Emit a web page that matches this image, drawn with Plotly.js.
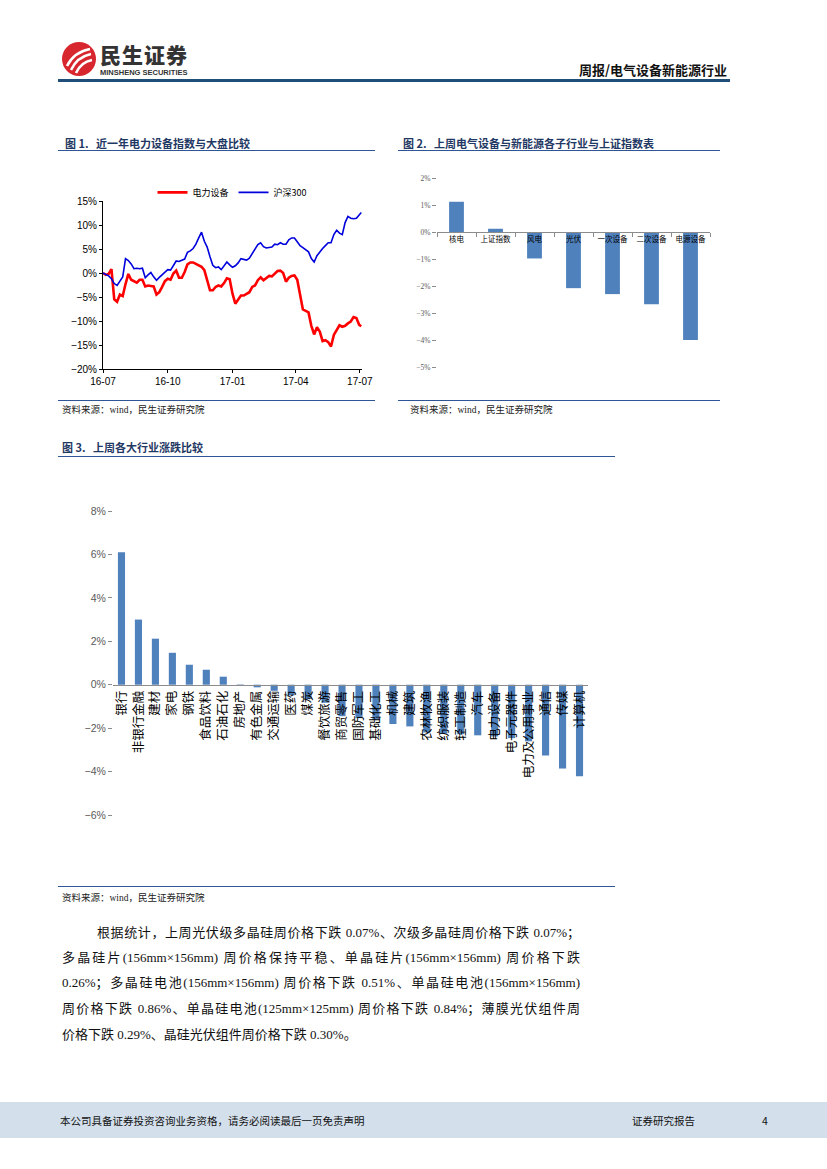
<!DOCTYPE html>
<html><head><meta charset="utf-8">
<script src="https://cdn.plot.ly/plotly-3.0.1.min.js"></script>
<style>
body{margin:0;background:#fff;}
#page{position:relative;width:827px;height:1169px;overflow:hidden;font-family:"Noto Sans CJK SC",sans-serif;}
.abs{position:absolute;}
.hline{position:absolute;background:#2f5597;height:1px;}
.ftitle{position:absolute;font-size:11px;font-weight:bold;color:#1f3864;white-space:nowrap;line-height:14px;}
.src{position:absolute;font-size:9.5px;color:#222;white-space:nowrap;line-height:12px;font-family:"Liberation Serif","Noto Sans CJK SC",serif;}
.para{position:absolute;left:62px;width:518px;font-size:13px;line-height:16px;color:#111;font-family:"Liberation Serif","Noto Sans CJK SC",serif;text-align:justify;text-align-last:justify;white-space:nowrap;}
</style></head>
<body><div id="page">
<svg class="abs" style="left:60px;top:40px" width="38" height="38" viewBox="0 0 38 38">
<circle cx="19" cy="19" r="17" fill="#d7262d"/>
<path d="M7 26 Q14 12 30 9" stroke="#fff" stroke-width="2.6" fill="none"/>
<path d="M11 30 Q17 17 31 14" stroke="#fff" stroke-width="2.6" fill="none"/>
<path d="M16 33 Q21 22 32 20" stroke="#fff" stroke-width="2.6" fill="none"/>
</svg>
<div class="abs" style="left:100px;top:43px;font-size:21px;font-weight:900;color:#333;line-height:22px;letter-spacing:1px;">民生证券</div>
<div class="abs" style="left:100px;top:68px;font-size:7.5px;font-weight:bold;color:#333;line-height:9px;font-family:'Liberation Sans',sans-serif;">MINSHENG SECURITIES</div>
<div class="abs" style="right:100px;top:61px;font-size:13px;font-weight:bold;color:#111;line-height:17px;">周报/电气设备新能源行业</div>
<div class="abs" style="left:58px;top:79px;width:672px;height:2.5px;background:#1f4e79;"></div>

<div class="ftitle" style="left:65px;top:136px;">图 1.&nbsp;&nbsp;&nbsp;近一年电力设备指数与大盘比较</div>
<div class="hline" style="left:58px;top:150px;width:317px;"></div>
<div class="ftitle" style="left:403px;top:136px;">图 2.&nbsp;&nbsp;&nbsp;上周电气设备与新能源各子行业与上证指数表</div>
<div class="hline" style="left:398px;top:150px;width:322px;"></div>

<div id="c1" class="abs" style="left:60px;top:180px;width:320px;height:210px;"></div>
<div id="c2" class="abs" style="left:400px;top:160px;width:320px;height:220px;"></div>

<div class="hline" style="left:58px;top:400px;width:317px;"></div>
<div class="hline" style="left:398px;top:400px;width:322px;"></div>
<div class="src" style="left:62px;top:404px;">资料来源：wind，民生证券研究院</div>
<div class="src" style="left:410px;top:404px;">资料来源：wind，民生证券研究院</div>

<div class="ftitle" style="left:62px;top:440px;">图 3.&nbsp;&nbsp;&nbsp;上周各大行业涨跌比较</div>
<div class="hline" style="left:58px;top:456px;width:557px;"></div>

<div id="c3" class="abs" style="left:60px;top:490px;width:560px;height:340px;"></div>

<div class="hline" style="left:58px;top:886px;width:557px;"></div>
<div class="src" style="left:62px;top:892px;">资料来源：wind，民生证券研究院</div>

<div class="para" style="top:925px;left:97px;width:483px;">根据统计，上周光伏级多晶硅周价格下跌 0.07%、次级多晶硅周价格下跌 0.07%；</div>
<div class="para" style="top:950px;">多晶硅片(156mm×156mm) 周价格保持平稳、单晶硅片(156mm×156mm) 周价格下跌</div>
<div class="para" style="top:975px;">0.26%；多晶硅电池(156mm×156mm) 周价格下跌 0.51%、单晶硅电池(156mm×156mm)</div>
<div class="para" style="top:1001px;">周价格下跌 0.86%、单晶硅电池(125mm×125mm) 周价格下跌 0.84%；薄膜光伏组件周</div>
<div class="para" style="top:1027px;text-align-last:left;">价格下跌 0.29%、晶硅光伏组件周价格下跌 0.30%。</div>

<div class="abs" style="left:0;top:1102px;width:827px;height:36px;background:#d3dfeb;"></div>
<div class="abs" style="left:60px;top:1113px;font-size:10.5px;color:#111;line-height:16px;">本公司具备证券投资咨询业务资格，请务必阅读最后一页免责声明</div>
<div class="abs" style="left:632px;top:1113px;font-size:10.5px;color:#111;line-height:16px;">证券研究报告</div>
<div class="abs" style="left:762px;top:1113px;font-size:10.5px;color:#111;line-height:16px;">4</div>
</div>
<script>
// ---------- Figure 1 data ----------
const lineDates = ['2016-07-01','2016-07-05','2016-07-09','2016-07-13','2016-07-17','2016-07-21','2016-07-25','2016-07-29',
'2016-08-02','2016-08-06','2016-08-10','2016-08-14','2016-08-18','2016-08-22','2016-08-26','2016-08-30',
'2016-09-03','2016-09-07','2016-09-11','2016-09-15','2016-09-19','2016-09-23','2016-09-27',
'2016-10-01','2016-10-05','2016-10-09','2016-10-13','2016-10-17','2016-10-21','2016-10-25','2016-10-29',
'2016-11-02','2016-11-06','2016-11-10','2016-11-14','2016-11-18','2016-11-22','2016-11-26','2016-11-30',
'2016-12-04','2016-12-08','2016-12-12','2016-12-16','2016-12-20','2016-12-24','2016-12-28',
'2017-01-01','2017-01-05','2017-01-09','2017-01-13','2017-01-17','2017-01-21','2017-01-25','2017-01-29',
'2017-02-02','2017-02-06','2017-02-10','2017-02-14','2017-02-18','2017-02-22','2017-02-26',
'2017-03-02','2017-03-06','2017-03-10','2017-03-14','2017-03-18','2017-03-22','2017-03-26','2017-03-30',
'2017-04-03','2017-04-07','2017-04-11','2017-04-15','2017-04-19','2017-04-23','2017-04-27',
'2017-05-01','2017-05-05','2017-05-09','2017-05-13','2017-05-17','2017-05-21','2017-05-25','2017-05-29',
'2017-06-02','2017-06-06','2017-06-10','2017-06-14','2017-06-18','2017-06-22','2017-06-26','2017-06-30','2017-07-03'];
const powerEquip = [0,-0.4,-0.2,0.8,-5.5,-6.0,-4.5,-4.8,-2.3,-0.2,
-1.4,-1.7,-2.0,-1.4,-1.4,-2.8,-2.6,-2.7,-2.8,-4.5,
-4.0,-2.9,-1.7,-1.2,-1.4,-0.1,0.5,-1.0,-1.0,0.2,
1.8,2.2,2.2,1.9,1.6,1.3,0.6,-1.5,-3.6,-3.6,
-2.9,-2.6,-2.8,-2.1,-1.1,-1.3,-4.3,-6.4,-5.5,-4.7,
-4.7,-4.4,-4.0,-2.9,-2.6,-1.5,-0.9,-1.5,-1.1,-0.6,
-0.7,-0.1,0.4,0.5,0.0,-1.8,-1.0,-0.6,-0.5,-1.4,
-4.5,-7.6,-7.9,-8.2,-11.0,-12.8,-11.3,-12.2,-14.2,-14.0,
-14.4,-15.3,-12.9,-11.8,-10.9,-11.2,-11.0,-10.5,-10.1,-9.2,
-9.4,-10.8,-11.1];
const hs300 = [0,-0.3,-0.6,-1.2,-2.2,-2.6,-1.8,-0.8,3.0,2.6,
1.9,0.9,1.0,0.9,1.0,-1.0,-0.4,0.1,-0.8,-1.5,
-0.9,-0.3,0.3,0.7,0.6,1.5,2.5,2.4,2.6,2.9,
4.3,4.6,5.1,6.0,7.3,8.5,6.6,5.4,3.4,1.6,
1.1,1.25,0.7,1.5,2.3,1.7,1.2,1.5,2.1,3.0,
2.9,2.7,3.1,4.0,5.0,5.9,6.3,5.5,5.2,5.3,
5.4,6.0,5.9,6.3,6.0,6.0,6.9,7.3,7.3,6.5,
5.7,5.3,4.9,4.4,3.0,2.3,3.6,4.4,5.1,5.7,
6.3,6.3,8.0,8.9,8.3,8.0,10.5,11.8,11.4,11.3,
11.4,12.1,12.6];
const seriesNames1 = ['电力设备','沪深300'];
const dateTicks1 = ['2016-07-01','2016-10-01','2017-01-01','2017-04-01','2017-07-01'];
const dateTickText1 = ['16-07','16-10','17-01','17-04','17-07'];

// ---------- Figure 2 data ----------
const subCats = ['核电','上证指数','风电','光伏','一次设备','二次设备','电源设备'];
const subVals = [1.12, 0.12, -0.98, -2.08, -2.3, -2.68, -4.0];

// ---------- Figure 3 data ----------
const indCats = ['银行','非银行金融','建材','家电','钢铁','食品饮料','石油石化','房地产','有色金属','交通运输',
'医药','煤炭','餐饮旅游','商贸零售','国防军工','基础化工','机械','建筑','农林牧渔','纺织服装',
'轻工制造','汽车','电力设备','电子元器件','电力及公用事业','通信','传媒','计算机'];
const indVals = [6.1, 3.0, 2.12, 1.47, 0.92, 0.69, 0.37, 0.02, -0.12, -0.28,
-0.49, -0.66, -0.83, -1.45, -1.54, -1.61, -1.81, -1.92, -2.2, -2.25,
-2.28, -2.33, -2.38, -2.46, -2.61, -3.26, -3.86, -4.22];

const cfg = {staticPlot:true, displayModeBar:false};
const cjk = '"Noto Sans CJK SC", sans-serif';
const arial = '"Liberation Sans", Arial, sans-serif';

// Figure 1
Plotly.newPlot('c1', [
  {x: lineDates, y: powerEquip, name: seriesNames1[0], type:'scatter', mode:'lines', line:{color:'#ff0000', width:2.6}},
  {x: lineDates, y: hs300, name: seriesNames1[1], type:'scatter', mode:'lines', line:{color:'#0000dd', width:1.6}}
], {
  width:320, height:210, margin:{l:43, r:18, t:21, b:21, autoexpand:false},
  paper_bgcolor:'#fff', plot_bgcolor:'#fff',
  showlegend:true,
  legend:{orientation:'h', x:0.5, xanchor:'center', y:0.965, yanchor:'bottom', font:{family:cjk, size:9, color:'#000'}, itemwidth:30, tracegroupgap:0, bgcolor:'rgba(0,0,0,0)'},
  xaxis:{type:'date', range:['2016-07-01','2017-07-04'], tickvals:dateTicks1, ticktext:dateTickText1,
    showline:true, linecolor:'#000', linewidth:1, ticks:'outside', ticklen:3, tickcolor:'#000',
    showgrid:false, zeroline:false, automargin:false, tickfont:{family:arial, size:10, color:'#000'}},
  yaxis:{range:[-20,15], dtick:5, ticksuffix:'%', showline:true, linecolor:'#000', linewidth:1,
    ticks:'outside', ticklen:3, tickcolor:'#000', showgrid:false, zeroline:false, automargin:false,
    tickfont:{family:arial, size:10, color:'#000'}}
}, cfg);

// Figure 2
Plotly.newPlot('c2', [
  {x: subCats, y: subVals, type:'bar', marker:{color:'#4f81bd'}, width:0.38}
], {
  width:320, height:220, margin:{l:37, r:10, t:17.7, b:13.3, autoexpand:false},
  paper_bgcolor:'#fff', plot_bgcolor:'#fff', showlegend:false,
  xaxis:{type:'category', anchor:'free', position:5/7, showline:true, linecolor:'#8c8c8c', linewidth:1,
    ticks:'outside', tickson:'boundaries', ticklen:4, tickcolor:'#8c8c8c', showgrid:false,
    tickfont:{family:cjk, size:7.5, color:'#000'}, tickangle:0},
  yaxis:{range:[-5,2], dtick:1, ticksuffix:'%', showline:false, showgrid:false, zeroline:false,
    ticks:'outside', ticklen:4, tickcolor:'#8c8c8c',
    tickfont:{family:'"Liberation Serif", serif', size:7.5, color:'#595959'}}
}, cfg);

// Figure 3
Plotly.newPlot('c3', [
  {x: indCats, y: indVals, type:'bar', marker:{color:'#4f81bd'}, width:0.42}
], {
  width:560, height:340, margin:{l:53, r:32, t:20.7, b:14.5, autoexpand:false},
  paper_bgcolor:'#fff', plot_bgcolor:'#fff', showlegend:false,
  xaxis:{type:'category', anchor:'free', position:6/14, showline:true, linecolor:'#8c8c8c', linewidth:1,
    ticks:'', showgrid:false, tickangle:-90,
    tickfont:{family:cjk, size:12.5, color:'#000'}},
  yaxis:{range:[-6,8], dtick:2, ticksuffix:'%', showline:false, showgrid:false, zeroline:false,
    ticks:'outside', ticklen:4, tickcolor:'#8c8c8c',
    tickfont:{family:arial, size:10.5, color:'#595959'}}
}, cfg);
</script>
</body></html>
